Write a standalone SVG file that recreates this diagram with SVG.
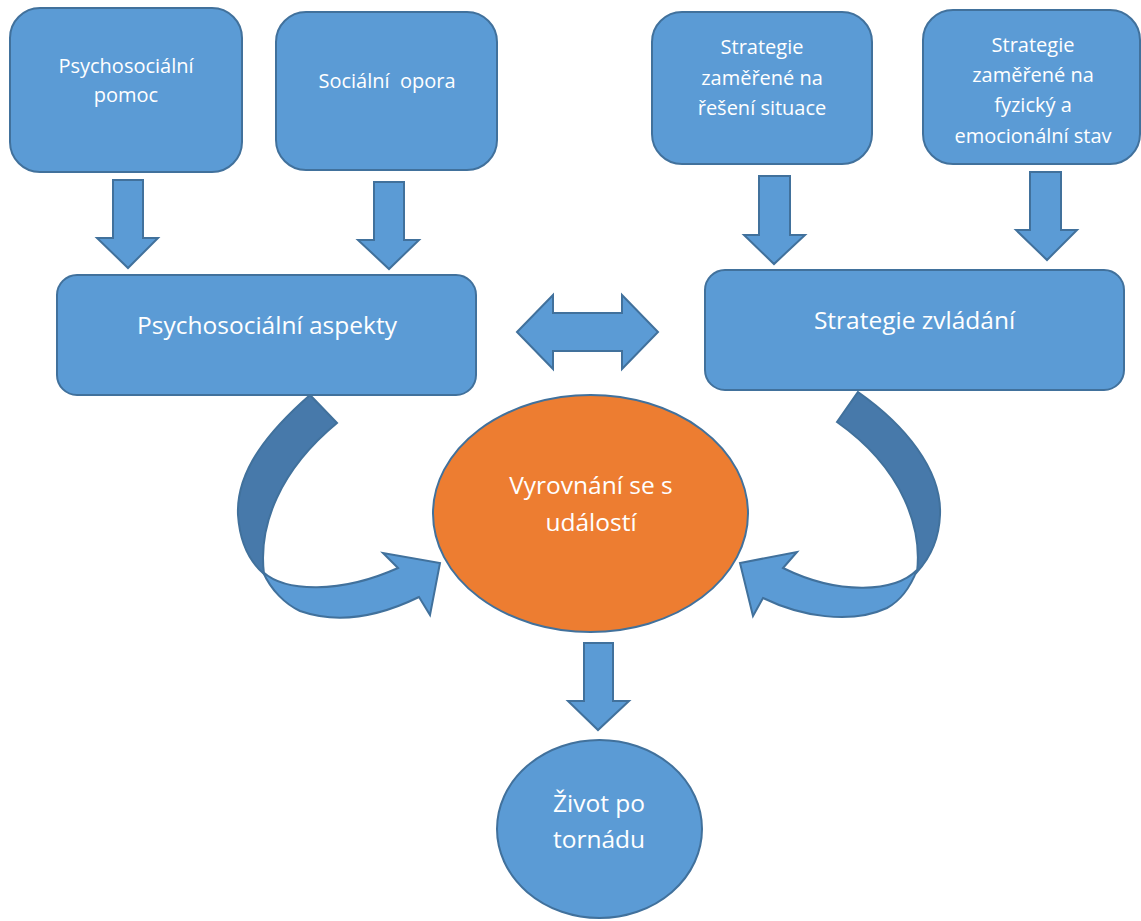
<svg xmlns="http://www.w3.org/2000/svg" width="1141" height="921" viewBox="0 0 1141 921">
<defs>
<style>
.box{fill:#5B9BD5;stroke:#41719C;stroke-width:2}
.arr{fill:#5B9BD5;stroke:#41719C;stroke-width:2;stroke-linejoin:miter}
.dark{fill:#4779AA;stroke:#41719C;stroke-width:2}
.t{font-family:"Open Sans","Liberation Sans",sans-serif;fill:#FFFFFF;text-anchor:middle}
.s{font-size:20px}
.l{font-size:24.5px}
</style>
</defs>
<rect width="1141" height="921" fill="#FFFFFF"/>
<g id="connectors">
<polygon class="arr" points="113,180 143,180 143,238 158,238 128,268 97,238 113,238"/>
<polygon class="arr" points="374,182 404,182 404,240 419,240 389,269 358,240 374,240"/>
<polygon class="arr" points="759,176 790,176 790,235 805,235 774,264 744,235 759,235"/>
<polygon class="arr" points="1030,172 1061,172 1061,230 1077,230 1047,260 1016,230 1030,230"/>
<polygon class="arr" points="517,332 553,295 553,313 622,313 622,295 658,332 622,369 622,351 553,351 553,369"/>
<polygon class="arr" points="584,643 613,643 613,701 629,701 598,730 568,701 584,701"/>
<path class="dark" d="M310,395 C270,430 236,470 238,515 C240,545 250,562 264,574 C258,525 280,470 337,423 Z"/>
<path class="arr" d="M263,572 C285,592 340,594 398,568 L383,553 L440,563 L430,615 L419,597 C380,616 340,625 300,611 C285,604 271,590 263,572 Z"/>
<path class="dark" d="M858,392 C905,425 942,470 940,515 C939,540 930,558 917,572 C922,530 905,470 837,422 Z"/>
<path class="arr" d="M917,570 C895,592 840,596 783,568 L797,552 L740,563 L753,616 L763,598 C800,616 850,625 887,608 C900,601 910,588 917,570 Z"/>
</g>
<g id="node-psychosocialni-pomoc">
<rect class="box" x="10" y="8" width="232" height="164" rx="30" ry="30"/>
<text class="t s" x="126" y="73">Psychosociální</text>
<text class="t s" x="126" y="102">pomoc</text>
</g>
<g id="node-socialni-opora">
<rect class="box" x="276" y="12" width="221" height="158" rx="30" ry="30"/>
<text class="t s" x="387" y="88" xml:space="preserve">Sociální  opora</text>
</g>
<g id="node-strategie-reseni">
<rect class="box" x="652" y="12" width="220" height="152" rx="30" ry="30"/>
<text class="t s" x="762" y="54">Strategie</text>
<text class="t s" x="762" y="85">zaměřené na</text>
<text class="t s" x="762" y="115">řešení situace</text>
</g>
<g id="node-strategie-stav">
<rect class="box" x="923" y="10" width="217" height="154" rx="30" ry="30"/>
<text class="t s" x="1033" y="52">Strategie</text>
<text class="t s" x="1033" y="82">zaměřené na</text>
<text class="t s" x="1033" y="112">fyzický a</text>
<text class="t s" x="1033" y="143">emocionální stav</text>
</g>
<g id="node-psychosocialni-aspekty">
<rect class="box" x="57" y="275" width="419" height="120" rx="20" ry="20"/>
<text class="t l" x="267" y="334">Psychosociální aspekty</text>
</g>
<g id="node-strategie-zvladani">
<rect class="box" x="705" y="270" width="419" height="120" rx="20" ry="20"/>
<text class="t l" x="914.5" y="329">Strategie zvládání</text>
</g>
<g id="node-vyrovnani">
<ellipse cx="590.5" cy="513.5" rx="157.5" ry="118.5" fill="#ED7D31" stroke="#41719C" stroke-width="2"/>
<text class="t l" x="591" y="494">Vyrovnání se s</text>
<text class="t l" x="591" y="531">událostí</text>
</g>
<g id="node-zivot">
<ellipse class="box" cx="599.5" cy="829" rx="102.5" ry="89"/>
<text class="t l" x="599" y="812">Život po</text>
<text class="t l" x="599" y="848">tornádu</text>
</g>
</svg>
